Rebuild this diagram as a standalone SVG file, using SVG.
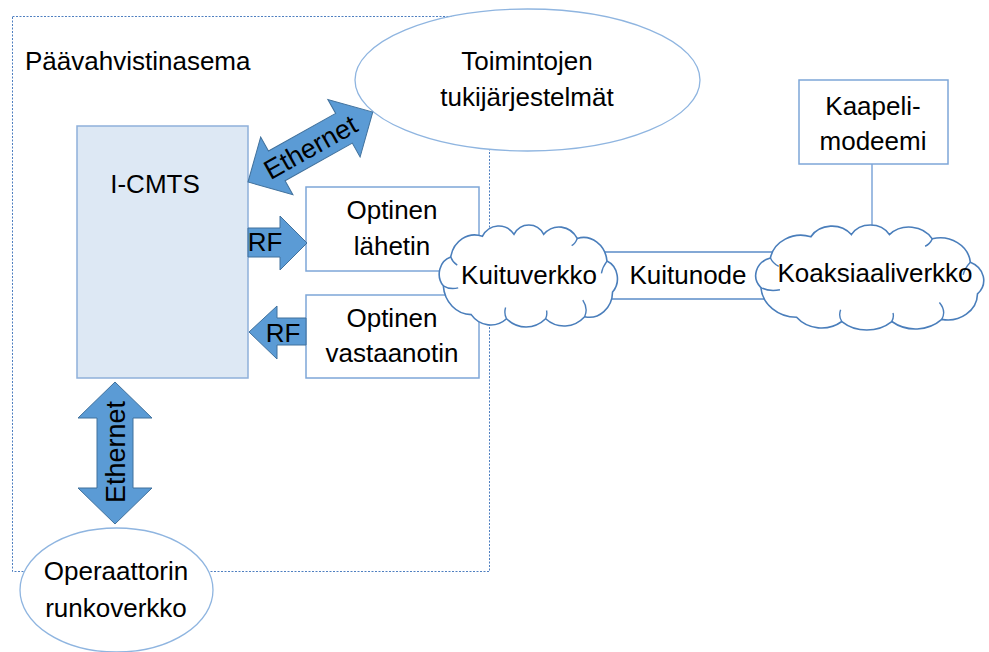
<svg xmlns="http://www.w3.org/2000/svg" xmlns:xlink="http://www.w3.org/1999/xlink" width="989" height="652" viewBox="0 0 989 652">
<style>
text { font-family: "Liberation Sans", Arial, sans-serif; font-size: 26px; fill: #000; }
.c { text-anchor: middle; }
.box { fill: #fff; stroke: #7ea6d8; stroke-width: 1.5; }
.cmts { fill: #dde8f4; stroke: #8eb0da; stroke-width: 1.5; }
.ell { fill: #fff; stroke: #8fb5e0; stroke-width: 1.3; }
.arrow { fill: #5b9bd5; stroke: #41719c; stroke-width: 1; }
.cloud { fill: #fff; stroke: #4a7ebb; stroke-width: 1.6; vector-effect: non-scaling-stroke; }
.cin { fill: none; stroke: #4a7ebb; stroke-width: 1.4; vector-effect: non-scaling-stroke; }
.frame { fill: none; stroke: #4f7fc0; stroke-width: 1; stroke-dasharray: 2 1.5; }
.link { fill: none; stroke: #7ea6d8; stroke-width: 1.5; }
.node { fill: #fff; stroke: #5b8cc8; stroke-width: 1.5; }
</style>
<defs>
<g id="cloudShape">
<path class="cloud" d="M10 60 A17.25 17.25 0 0 1 18 32 A26.1 26.1 0 0 1 52 12 A20.6 20.6 0 0 1 86 10 A18.7 18.7 0 0 1 118 10 A22.7 22.7 0 0 1 154 14 A25.4 25.4 0 0 1 186 36 A18.6 18.6 0 0 1 192 66 A25 25 0 0 1 162 90 A31.6 31.6 0 0 1 120 92 A31.6 31.6 0 0 1 78 92 A26.8 26.8 0 0 1 40 88 A30.3 30.3 0 0 1 10 60 Z"/>
<path class="cin" d="M18 32 Q20 37 25 40 M154 14 Q152 19 148 21 M186 36 Q181 42 180 48 M162 90 Q166 82 160 74 M78 92 Q75 87 77 81 M10 60 Q17 64 26 62 M120 92 Q122 88 121 84"/>
</g>
</defs>

<rect id="frame" class="frame" x="12.5" y="16.5" width="477" height="555"/>
<text id="label-paavahvistinasema" x="25" y="70">Päävahvistinasema</text>

<g id="toimintojen">
<ellipse class="ell" cx="527.5" cy="80" rx="172.5" ry="71"/>
<text class="c" x="527" y="70">Toimintojen</text>
<text class="c" x="527" y="106">tukijärjestelmät</text>
</g>

<g id="icmts">
<rect class="cmts" x="77" y="126" width="171" height="252"/>
<text class="c" x="155" y="193">I-CMTS</text>
</g>

<g id="lahetin">
<rect class="box" x="306" y="187" width="173" height="84"/>
<text class="c" x="392" y="219">Optinen</text>
<text class="c" x="392" y="255">lähetin</text>
</g>

<g id="vastaanotin">
<rect class="box" x="306" y="295" width="173" height="83"/>
<text class="c" x="392" y="327">Optinen</text>
<text class="c" x="392" y="362">vastaanotin</text>
</g>

<g id="kaapelimodeemi">
<rect class="box" x="799" y="80" width="149" height="84"/>
<text class="c" x="873" y="115">Kaapeli-</text>
<text class="c" x="873" y="150">modeemi</text>
</g>

<g id="operaattorin">
<ellipse class="ell" cx="116.5" cy="590" rx="96.5" ry="62"/>
<text class="c" x="116" y="580">Operaattorin</text>
<text class="c" x="116" y="617">runkoverkko</text>
</g>

<g id="connectors">
<line class="link" x1="872" y1="164" x2="872" y2="228"/>
<g id="eth-diag" transform="translate(248,182) rotate(-29.25)">
<path class="arrow" d="M0 0 L33 -33 L33 -17 L110 -17 L110 -33 L143 0 L110 33 L110 17 L33 17 L33 33 Z"/>
<text class="c" x="71.5" y="9.5" style="font-size:27px">Ethernet</text>
</g>
<g id="eth-vert">
<path class="arrow" d="M115 382 L152 418 L133 418 L133 488 L152 488 L115 524 L78 488 L97 488 L97 418 L78 418 Z"/>
<text class="c" transform="translate(124.5,452) rotate(-90)" x="0" y="0" style="font-size:27px">Ethernet</text>
</g>
<g id="rf-out">
<path class="arrow" d="M248 228 L280 228 L280 216 L307 243 L280 270 L280 257 L248 257 Z"/>
<text class="c" x="265" y="251">RF</text>
</g>
<g id="rf-in">
<path class="arrow" d="M249 332 L277 306 L277 318 L306 318 L306 345 L277 345 L277 359 Z"/>
<text class="c" x="283" y="342">RF</text>
</g>
</g>

<g id="kuitunode">
<rect class="node" x="600" y="252" width="175" height="47"/>
<text class="c" x="688" y="284">Kuitunode</text>
</g>

<g id="kuituverkko">
<use xlink:href="#cloudShape" transform="translate(434,224) scale(0.93,1.03)"/>
<text class="c" x="529" y="284">Kuituverkko</text>
</g>

<g id="koaksiaaliverkko">
<use xlink:href="#cloudShape" transform="translate(749,224) scale(1.19,1.06)"/>
<text class="c" x="875" y="282">Koaksiaaliverkko</text>
</g>
</svg>
